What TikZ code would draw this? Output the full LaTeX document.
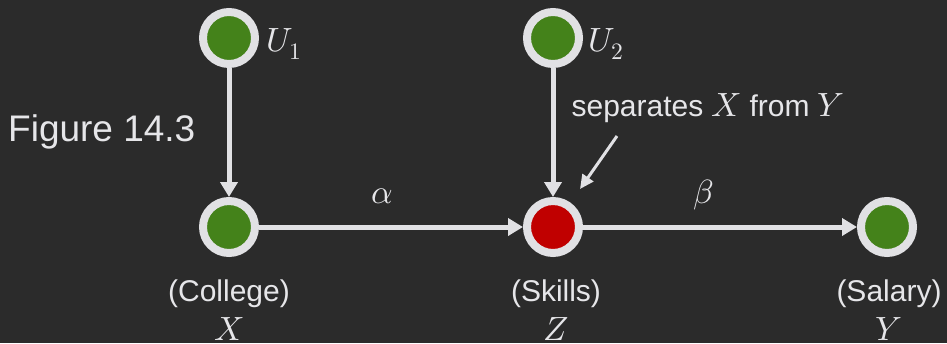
\documentclass[tikz,border=0pt]{standalone}
\usepackage{fontspec}
\usepackage{unicode-math}
\setmainfont{Liberation Sans}
\setmathfont{Latin Modern Math}[Scale=1.12]
\usetikzlibrary{arrows.meta,positioning}
\definecolor{board}{HTML}{2B2B2B}
\definecolor{ring}{HTML}{E1E1E4}
\definecolor{chalk}{HTML}{E6E6E9}
\definecolor{Gc}{HTML}{44821A}
\definecolor{Rc}{HTML}{C00000}
\tikzset{
  var/.style={circle, fill=Gc, draw=ring, line width=8pt, inner sep=0pt, minimum size=52pt},
  sepvar/.style={var, fill=Rc},
  edge/.style={-{Triangle[length=15pt, width=17pt]}, draw=ring, line width=5pt},
  note/.style={-{Triangle[length=14pt, width=13pt]}, draw=ring, line width=3pt},
  lbl/.style={text=chalk, font=\fontsize{30}{34}\selectfont, inner sep=0pt, anchor=base},
}

\begin{document}
\begin{tikzpicture}[x=1pt, y=-1pt]
  \fill[board] (0,0) rectangle (947,343);
  % variables
  \node[var] (u1) at (229,38) {};
  \node[var] (u2) at (553,38) {};
  \node[var] (x) at (229,227) {};
  \node[sepvar] (z) at (553,227) {};
  \node[var] (y) at (887,227) {};
  \draw[edge] (u1) -- (x);
  \draw[edge] (x) -- (z);
  \draw[edge] (u2) -- (z);
  \draw[edge] (z) -- (y);
  % labels
  \node[lbl, anchor=base west] (u1lbl) at (266,51) {$U_1$};
  \node[lbl, anchor=base west] (u2lbl) at (588,51) {$U_2$};
  \node[lbl] (alpha) at (382,203) {$\alpha$};
  \node[lbl] (beta) at (704,203) {$\beta$};
  \node[lbl] (xname) at (229,301) {(College)};
  \node[lbl] (xsym) at (229,340) {$X$};
  \node[lbl] (zname) at (556,301) {(Skills)};
  \node[lbl] (zsym) at (556,340) {$Z$};
  \node[lbl] (yname) at (889,301) {(Salary)};
  \node[lbl] (ysym) at (889,340) {$Y$};
  \node[lbl, anchor=base west, font=\fontsize{37}{42}\selectfont] (fig) at (8,141) {Figure 14.3};
  % note on Z
  \node[lbl, font=\fontsize{30}{34}\selectfont] (sepnote) at (708,116) {separates $X$ from $Y$};
  \coordinate (tail) at (617,136);
  \coordinate (tip) at (580,189);
  \draw[note] (tail) -- (tip);
\end{tikzpicture}
\end{document}
